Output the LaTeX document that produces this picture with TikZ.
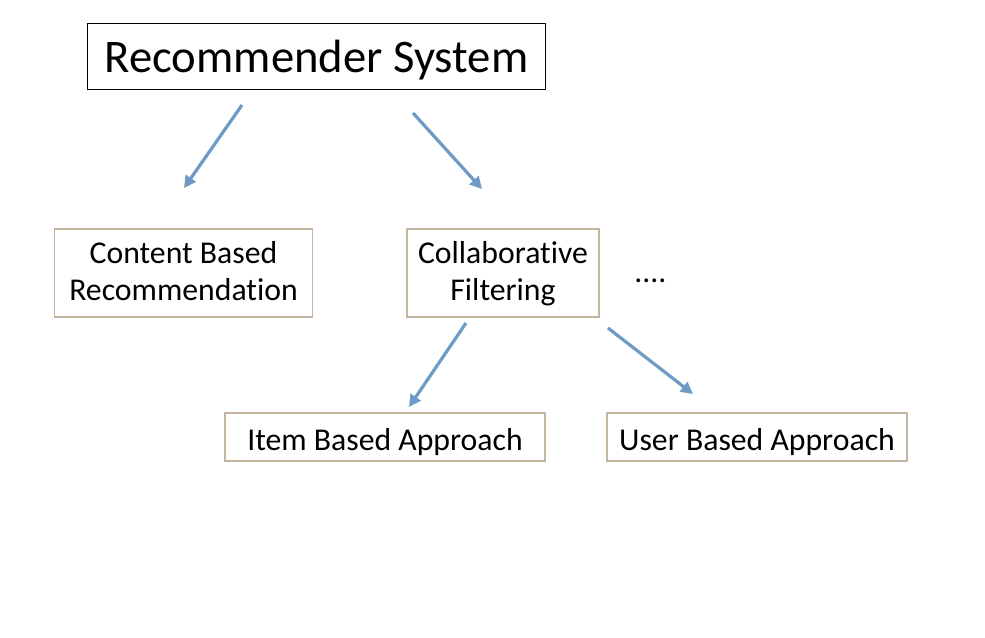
\documentclass[tikz,border=0pt]{standalone}
\usepackage{fontspec}
\setmainfont[Ligatures={NoCommon}]{Carlito}
\usetikzlibrary{arrows.meta}
\definecolor{boxline}{RGB}{196,182,160}
\definecolor{arrowblue}{RGB}{110,155,197}
\newcommand{\linestrut}{\rule[-7pt]{0pt}{27.75pt}}

\begin{document}
\begin{tikzpicture}[x=0.75pt,y=-0.75pt,
	topbox/.style={draw=black,line width=0.8pt,minimum width=343pt,minimum height=50pt,inner sep=0pt,text height=23.25pt,text depth=0pt,font=\fontsize{35}{40}\selectfont},
	subbox/.style={draw=boxline,line width=0.8pt,inner sep=0pt,align=center,font=\fontsize{23.8}{27.75}\selectfont},
	onebox/.style={subbox,minimum height=36pt,text height=19.5pt,text depth=0pt},
	arr/.style={draw=arrowblue,line width=2.4pt,-{Triangle[length=9pt,width=9pt]}}]
	%% Frame
	\useasboundingbox (0,0) rectangle (985,637);
	%% Boxes
	\node[topbox] (sys) at (316.5,56.5) {Recommender System};
	\node[subbox,minimum width=194pt,minimum height=66pt] (cbr) at (183.5,273) {\linestrut Content Based\\\linestrut Recommendation};
	\node[subbox,minimum width=144pt,minimum height=66pt] (cf) at (503,273) {\linestrut Collaborative\\\linestrut Filtering};
	\node[anchor=base,inner sep=0pt,font=\fontsize{23.8}{27.75}\selectfont] (more) at (650.5,282) {....};
	\node[onebox,minimum width=240pt] (item) at (385,437) {Item Based Approach};
	\node[onebox,minimum width=225pt] (user) at (757,437) {User Based Approach};
	%% Arrow ends
	\coordinate (s1) at (242,105); \coordinate (e1) at (184,188);
	\coordinate (s2) at (413,113); \coordinate (e2) at (482,189);
	\coordinate (s3) at (466,323); \coordinate (e3) at (409,407);
	\coordinate (s4) at (608,328); \coordinate (e4) at (693,394);
	%% Arrows
	\draw[arr] (s1) -- (e1);
	\draw[arr] (s2) -- (e2);
	\draw[arr] (s3) -- (e3);
	\draw[arr] (s4) -- (e4);
\end{tikzpicture}
\end{document}
